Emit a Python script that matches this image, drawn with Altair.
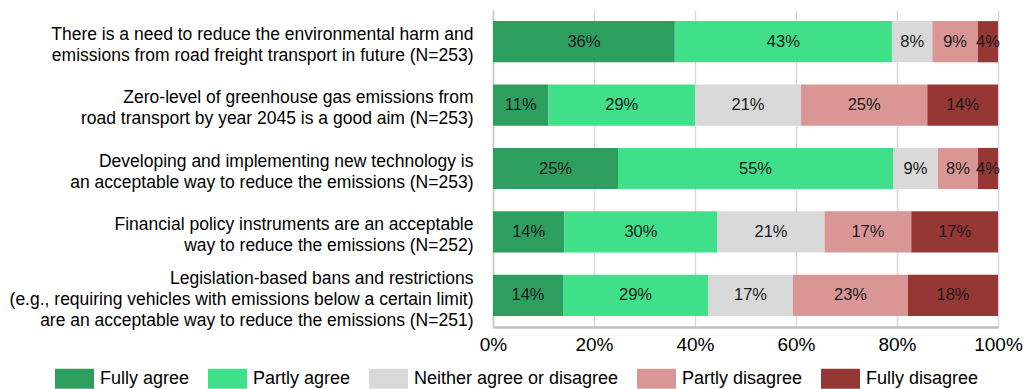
import altair as alt
import pandas as pd

# Survey statements (line breaks marked with "|")
statements = [
    "There is a need to reduce the environmental harm and|emissions from road freight transport in future (N=253)",
    "Zero-level of greenhouse gas emissions from|road transport by year 2045 is a good aim (N=253)",
    "Developing and implementing new technology is|an acceptable way to reduce the emissions (N=253)",
    "Financial policy instruments are an acceptable|way to reduce the emissions (N=252)",
    "Legislation-based bans and restrictions|(e.g., requiring vehicles with emissions below a certain limit)|are an acceptable way to reduce the emissions (N=251)",
]

responses = [
    "Fully agree",
    "Partly agree",
    "Neither agree or disagree",
    "Partly disagree",
    "Fully disagree",
]

colors = ["#2e9e5f", "#40e08a", "#d9d9d9", "#da9694", "#953735"]

# Share of answers (%) per statement, in the order of `responses`
fully_agree = [36, 11, 25, 14, 14]
partly_agree = [43, 29, 55, 30, 29]
neither = [8, 21, 9, 21, 17]
partly_disagree = [9, 25, 8, 17, 23]
fully_disagree = [4, 14, 4, 17, 18]

series = [fully_agree, partly_agree, neither, partly_disagree, fully_disagree]

rows = []
for si, s in enumerate(statements):
    for ri, r in enumerate(responses):
        rows.append({"statement": s, "response": r, "order": ri, "value": series[ri][si]})
df = pd.DataFrame(rows)

FONT = "Liberation Sans"
LINE_H = 21

base = (
    alt.Chart(df)
    .transform_joinaggregate(total="sum(value)", groupby=["statement"])
    .transform_calculate(share="datum.value / datum.total")
    .transform_stack(
        stack="share",
        as_=["x0", "x1"],
        groupby=["statement"],
        sort=[alt.SortField("order", order="ascending")],
    )
    .transform_calculate(xmid="(datum.x0 + datum.x1) / 2", label="datum.value + '%'")
)

# multi-line labels grow downward from the tick, so lift them to sit centred on the bar
label_shift = {
    "condition": {"test": "length(split(datum.label, '|')) == 3", "value": -16},
    "value": -7,
}

y_enc = alt.Y(
    "statement:N",
    sort=statements,
    scale=alt.Scale(paddingInner=0.35, paddingOuter=0.175),
    axis=alt.Axis(
        title=None,
        labelExpr="split(datum.label, '|')",
        labelFont=FONT,
        labelFontSize=17.5,
        labelLineHeight=LINE_H,
        labelColor="#000000",
        labelPadding=20,
        labelLimit=520,
        labelOffset=label_shift,
        ticks=False,
        domain=True,
        domainColor="#c8c8c8",
        domainWidth=1.5,
        grid=False,
    ),
)

bars = base.mark_bar().encode(
    x=alt.X(
        "x0:Q",
        scale=alt.Scale(domain=[0, 1], nice=False),
        axis=alt.Axis(
            title=None,
            format=".0%",
            values=[0, 0.2, 0.4, 0.6, 0.8, 1.0],
            labelFont=FONT,
            labelFontSize=19,
            labelColor="#000000",
            labelPadding=8,
            labelFlush=False,
            labelOverlap=False,
            ticks=False,
            domainColor="#c0c0c0",
            domainWidth=2.5,
            grid=True,
            gridColor="#d9d9d9",
            gridWidth=1.5,
        ),
    ),
    x2="x1:Q",
    y=y_enc,
    color=alt.Color(
        "response:N",
        scale=alt.Scale(domain=responses, range=colors),
        legend=alt.Legend(
            title=None,
            orient="none",
            direction="horizontal",
            legendX=-438,
            legendY=349,
            symbolType="M-1,-0.513H1V0.513H-1Z",
            symbolSize=1521,
            symbolStrokeWidth=0,
            symbolOpacity=1,
            labelFont=FONT,
            labelFontSize=18,
            labelColor="#000000",
            labelOffset=6,
            columnPadding=18,
            labelLimit=400,
        ),
    ),
    order=alt.Order("order:Q"),
)

labels = base.mark_text(font=FONT, fontSize=16.5, color="#1a1a1a", baseline="middle").encode(
    x=alt.X("xmid:Q"),
    y=alt.Y("statement:N", sort=statements),
    text="label:N",
)

chart = (
    alt.layer(bars, labels)
    .properties(
        width=505,
        height=317,
        autosize=alt.AutoSizeParams(type="none"),
        padding={"left": 493, "top": 10, "right": 31, "bottom": 62},
        background="white",
    )
    .configure_view(stroke=None)
)

chart.save("out.html", embed_options={"renderer": "svg", "actions": False})
